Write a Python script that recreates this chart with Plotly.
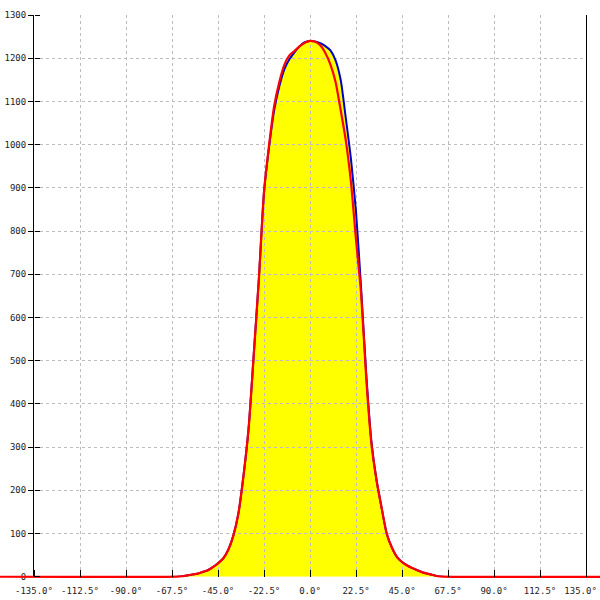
import plotly.graph_objects as go

# ---------------- data ----------------
angles = [-65, -62.5, -60, -57.5, -55, -52.5, -50, -47.5, -45, -42.5, -40, -37.5,
          -35, -32.5, -30, -27.5, -25, -22.5, -20, -17.5, -15, -12.5, -10, -7.5,
          -5, -2.5, 0, 2.5, 5, 7.5, 10, 12.5, 15, 17.5, 20, 22.5, 25, 27.5, 30,
          32.5, 35, 37.5, 40, 42.5, 45, 47.5, 50, 52.5, 55, 57.5, 60, 62.5, 65]

red_values = [0, 1, 3, 5, 7, 11, 15, 22, 31, 42, 62, 95,
              147, 235, 345, 515, 690, 890, 1000, 1090, 1145, 1185, 1207, 1217,
              1228, 1236, 1240, 1238, 1230, 1212, 1185, 1145, 1080, 1010, 915, 780, 655, 460, 310,
              225, 160, 100, 68, 46, 34, 26, 20, 15, 10, 7, 4, 1, 0]

blue_values = [0, 1, 3, 5, 7, 11, 15, 22, 31, 42, 62, 95,
               147, 235, 345, 515, 690, 890, 995, 1080, 1135, 1175, 1198, 1214,
               1228, 1237, 1240, 1239, 1235, 1228, 1218, 1195, 1150, 1062, 968, 845, 668, 470, 315,
               225, 160, 100, 68, 46, 34, 26, 20, 15, 10, 7, 4, 1, 0]

# red series continues at zero across the whole canvas
red_lead_angles = [-160]
red_tail_angles = [160]

x_ticks = [-135, -112.5, -90, -67.5, -45, -22.5, 0, 22.5, 45, 67.5, 90, 112.5, 135]
x_tick_labels = [f"{v:.1f}°" for v in x_ticks]
# last label is nudged left (padding) so it stays inside the canvas, as in the reference
x_tick_labels[-1] = x_tick_labels[-1] + "\u00a0\u00a0"
y_ticks = [0, 100, 200, 300, 400, 500, 600, 700, 800, 900, 1000, 1100, 1200, 1300]

# ---------------- layout geometry ----------------
W = H = 600
x_dom = [34 / W, 586 / W]
y_dom = [(H - 576.7) / H, (H - 15) / H]
x_rng = [-135, 135]
y_rng = [0, 1300]


def full_range(rng, dom):
    s = (rng[1] - rng[0]) / (dom[1] - dom[0])
    return [rng[0] - dom[0] * s, rng[1] + (1 - dom[1]) * s]


x_full = full_range(x_rng, x_dom)
y_full = full_range(y_rng, y_dom)

FONT = dict(family="DejaVu Sans Mono", size=9, color="#222")
GRID = dict(showgrid=True, gridcolor="#bdbdbd", griddash="3px,3px", gridwidth=1)
SMOOTH = dict(shape="spline", smoothing=0.6)

fig = go.Figure()

# yellow fill under the blue series (bottom layer)
fig.add_trace(go.Scatter(x=angles, y=blue_values, mode="lines", fill="tozeroy",
                         fillcolor="#ffff00", line=dict(width=0, color="#ffff00", **SMOOTH),
                         xaxis="x", yaxis="y", hoverinfo="skip"))
# blue line (with grid + axes)
fig.add_trace(go.Scatter(x=angles, y=blue_values, mode="lines",
                         line=dict(width=2, color="#0000c8", **SMOOTH),
                         xaxis="x2", yaxis="y2"))
# red line on top, spanning full canvas
fig.add_trace(go.Scatter(x=red_lead_angles + angles + red_tail_angles,
                         y=[0] + red_values + [0], mode="lines",
                         line=dict(width=2.2, color="#ff0000", **SMOOTH),
                         xaxis="x3", yaxis="y3"))

hidden = dict(showgrid=False, zeroline=False, showticklabels=False, ticks="",
              showline=False, fixedrange=True, automargin=False)

fig.update_layout(
    template="none",
    width=W, height=H,
    margin=dict(l=0, r=0, t=0, b=0, pad=0, autoexpand=False),
    paper_bgcolor="white",
    plot_bgcolor="rgba(0,0,0,0)",
    showlegend=False,
    xaxis=dict(domain=x_dom, range=x_rng, anchor="y", **hidden),
    yaxis=dict(domain=y_dom, range=y_rng, anchor="x", **hidden),
    xaxis2=dict(domain=x_dom, range=x_rng, anchor="y2", zeroline=False,
                tickvals=x_ticks, ticktext=x_tick_labels, tickfont=FONT,
                ticks="", showline=False, ticklabelstandoff=7,
                ticklabeloverflow="allow", automargin=False, **GRID),
    yaxis2=dict(domain=y_dom, range=y_rng, anchor="x2", zeroline=False,
                tickvals=y_ticks, tickfont=FONT, ticks="outside", ticklen=5,
                tickcolor="black", showline=True, mirror=True, linecolor="black",
                linewidth=1, ticklabeloverflow="allow", automargin=False, **GRID),
    xaxis3=dict(domain=[0, 1], range=x_full, anchor="free", position=y_dom[0],
                showgrid=False, zeroline=False, showticklabels=False,
                tickvals=x_ticks, ticks="inside", ticklen=7, tickcolor="black",
                showline=False, automargin=False),
    yaxis3=dict(domain=[0, 1], range=y_full, anchor="free", position=x_dom[0],
                showgrid=False, zeroline=False, showticklabels=False,
                tickvals=y_ticks, ticks="inside", ticklen=5, tickcolor="black",
                showline=False, automargin=False),
)

fig.write_html("out.html", config={"displayModeBar": False, "staticPlot": True},
               post_script="document.body.style.margin='0';document.body.style.overflow='hidden';")
